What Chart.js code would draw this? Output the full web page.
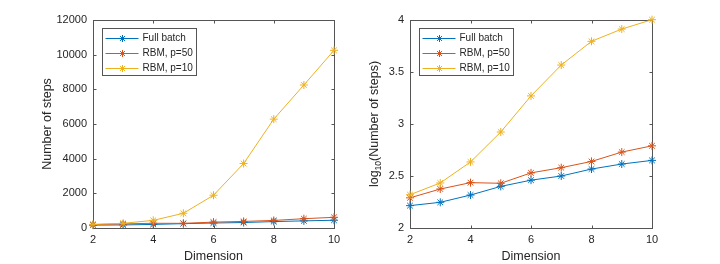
<!DOCTYPE html>
<html>
<head>
<meta charset="utf-8">
<script src="https://cdn.jsdelivr.net/npm/chart.js@4.4.1/dist/chart.umd.min.js"></script>
<style>
html, body { margin: 0; padding: 0; background: #fff; }
.wrap { position: absolute; top: 0; width: 360px; height: 264px; }
</style>
</head>
<body>
<div class="wrap" style="left:0"><canvas id="left"></canvas></div>
<div class="wrap" style="left:360px"><canvas id="right"></canvas></div>
<script>
// data
const dimensions = [2, 3, 4, 5, 6, 7, 8, 9, 10];
const seriesNames = ['Full batch', 'RBM, p=50', 'RBM, p=10'];

// left panel: number of steps
const stepsFull = [165, 177, 207, 251, 288, 316, 369, 412, 447];
const stepsP50 = [195, 237, 273, 269, 339, 380, 437, 537, 617];
const stepsP10 = [209, 271, 440, 850, 1890, 3720, 6280, 8250, 10250];

// right panel: log10(number of steps)
const logFull = [2.215, 2.247, 2.317, 2.40, 2.46, 2.50, 2.567, 2.615, 2.65];
const logP50 = [2.29, 2.375, 2.436, 2.43, 2.53, 2.58, 2.64, 2.73, 2.79];
const logP10 = [2.32, 2.433, 2.635, 2.923, 3.27, 3.567, 3.795, 3.913, 4.003];

const colors = ['#0072BD', '#D95319', '#EDB120'];
const axisColor = '#555555';
const textColor = '#262626';
const FONT = "'Liberation Sans', Arial, sans-serif";

Chart.defaults.font.family = FONT;
Chart.defaults.color = textColor;

function makeDatasets(lists) {
  return lists.map((vals, i) => ({
    label: seriesNames[i],
    data: dimensions.map((d, k) => ({x: d, y: vals[k]})),
    borderColor: colors[i],
    backgroundColor: colors[i],
    borderWidth: 1,
    pointStyle: 'star',
    pointRadius: 4,
    pointBorderWidth: 1,
    pointBorderColor: colors[i],
    order: 2 - i,
    clip: false,
    tension: 0
  }));
}

// axes box with inward ticks on all four sides
const boxPlugin = {
  id: 'box',
  beforeDatasetsDraw(chart) {
    const {ctx, chartArea: a, scales: {x, y}} = chart;
    const L = Math.round(a.left) + 0.5, R = Math.round(a.right) + 0.5;
    const T = Math.round(a.top) + 0.5, B = Math.round(a.bottom) + 0.5;
    ctx.save();
    ctx.strokeStyle = axisColor;
    ctx.lineWidth = 1;
    ctx.strokeRect(L, T, R - L, B - T);
    ctx.beginPath();
    x.ticks.forEach(t => {
      const px = Math.round(x.getPixelForValue(t.value)) + 0.5;
      ctx.moveTo(px, B); ctx.lineTo(px, B - 3);
      ctx.moveTo(px, T); ctx.lineTo(px, T + 3);
    });
    y.ticks.forEach(t => {
      const py = Math.round(y.getPixelForValue(t.value)) + 0.5;
      ctx.moveTo(L, py); ctx.lineTo(L + 3, py);
      ctx.moveTo(R, py); ctx.lineTo(R - 3, py);
    });
    ctx.stroke();
    ctx.restore();
  }
};

// legend box in the upper left corner of the plot
const legendPlugin = {
  id: 'boxLegend',
  afterDraw(chart) {
    const {ctx, chartArea: a} = chart;
    const bx = Math.round(a.left) + 9.5, by = Math.round(a.top) + 8.5;
    const bw = 94, bh = 47;
    ctx.save();
    ctx.fillStyle = '#fff';
    ctx.fillRect(bx, by, bw, bh);
    ctx.strokeStyle = axisColor;
    ctx.lineWidth = 1;
    ctx.strokeRect(bx, by, bw, bh);
    ctx.font = '10px ' + FONT;
    ctx.textBaseline = 'middle';
    chart.data.datasets.forEach((ds, i) => {
      const cy = Math.round(by + 9 + i * 15) + 0.5;
      ctx.strokeStyle = ds.borderColor;
      ctx.beginPath();
      ctx.moveTo(bx + 3, cy); ctx.lineTo(bx + 36, cy);
      ctx.stroke();
      Chart.helpers.drawPoint(ctx, {pointStyle: 'star', radius: 3.5, borderWidth: 1}, bx + 20, cy);
      ctx.fillStyle = textColor;
      ctx.fillText(ds.label, bx + 40, cy);
    });
    ctx.restore();
  }
};

// y title with subscript for the right panel
const logTitlePlugin = {
  id: 'logTitle',
  afterDraw(chart) {
    const {ctx, chartArea: a} = chart;
    const cx = 15, cy = (a.top + a.bottom) / 2;
    const main = '12.5px ' + FONT, sub = '8.5px ' + FONT;
    ctx.save();
    ctx.font = main;
    const w1 = ctx.measureText('log').width;
    const w3 = ctx.measureText('(Number of steps)').width;
    ctx.font = sub;
    const w2 = ctx.measureText('10').width;
    const total = w1 + w2 + w3;
    ctx.translate(cx, cy);
    ctx.rotate(-Math.PI / 2);
    ctx.fillStyle = textColor;
    ctx.textBaseline = 'middle';
    let xx = -total / 2;
    ctx.font = main; ctx.fillText('log', xx, 0); xx += w1;
    ctx.font = sub; ctx.fillText('10', xx, 4); xx += w2;
    ctx.font = main; ctx.fillText('(Number of steps)', xx, 0);
    ctx.restore();
  }
};

function makeChart(id, lists, yMin, yMax, yStep, yWidth, rightPad, yTitle, titlePad, extraPlugins) {
  return new Chart(document.getElementById(id), {
    type: 'line',
    data: {datasets: makeDatasets(lists)},
    options: {
      responsive: true,
      maintainAspectRatio: false,
      animation: false,
      layout: {padding: {left: 0, right: rightPad, top: 20, bottom: 0}},
      plugins: {legend: {display: false}, tooltip: {enabled: false}},
      scales: {
        x: {
          type: 'linear',
          min: 2, max: 10,
          grid: {display: false, drawTicks: false},
          border: {display: false},
          ticks: {stepSize: 2, padding: 5, font: {size: 11}, color: textColor},
          title: {display: true, text: 'Dimension', font: {size: 12.5}, color: textColor, padding: {top: 0, bottom: 0}},
          afterFit(s) { s.height = 36; }
        },
        y: {
          min: yMin, max: yMax,
          grid: {display: false, drawTicks: false},
          border: {display: false},
          ticks: {stepSize: yStep, padding: 6, font: {size: 11}, color: textColor, callback: v => String(v)},
          title: {display: !!yTitle, text: yTitle, font: {size: 12.5}, color: textColor, padding: {top: titlePad, bottom: 0}},
          afterFit(s) { s.width = yWidth; }
        }
      }
    },
    plugins: [boxPlugin, legendPlugin].concat(extraPlugins)
  });
}

makeChart('left', [stepsFull, stepsP50, stepsP10], 0, 12000, 2000, 93, 26, 'Number of steps', 40, []);
makeChart('right', [logFull, logP50, logP10], 2, 4, 0.5, 50, 68, '', 0, [logTitlePlugin]);
</script>
</body>
</html>
